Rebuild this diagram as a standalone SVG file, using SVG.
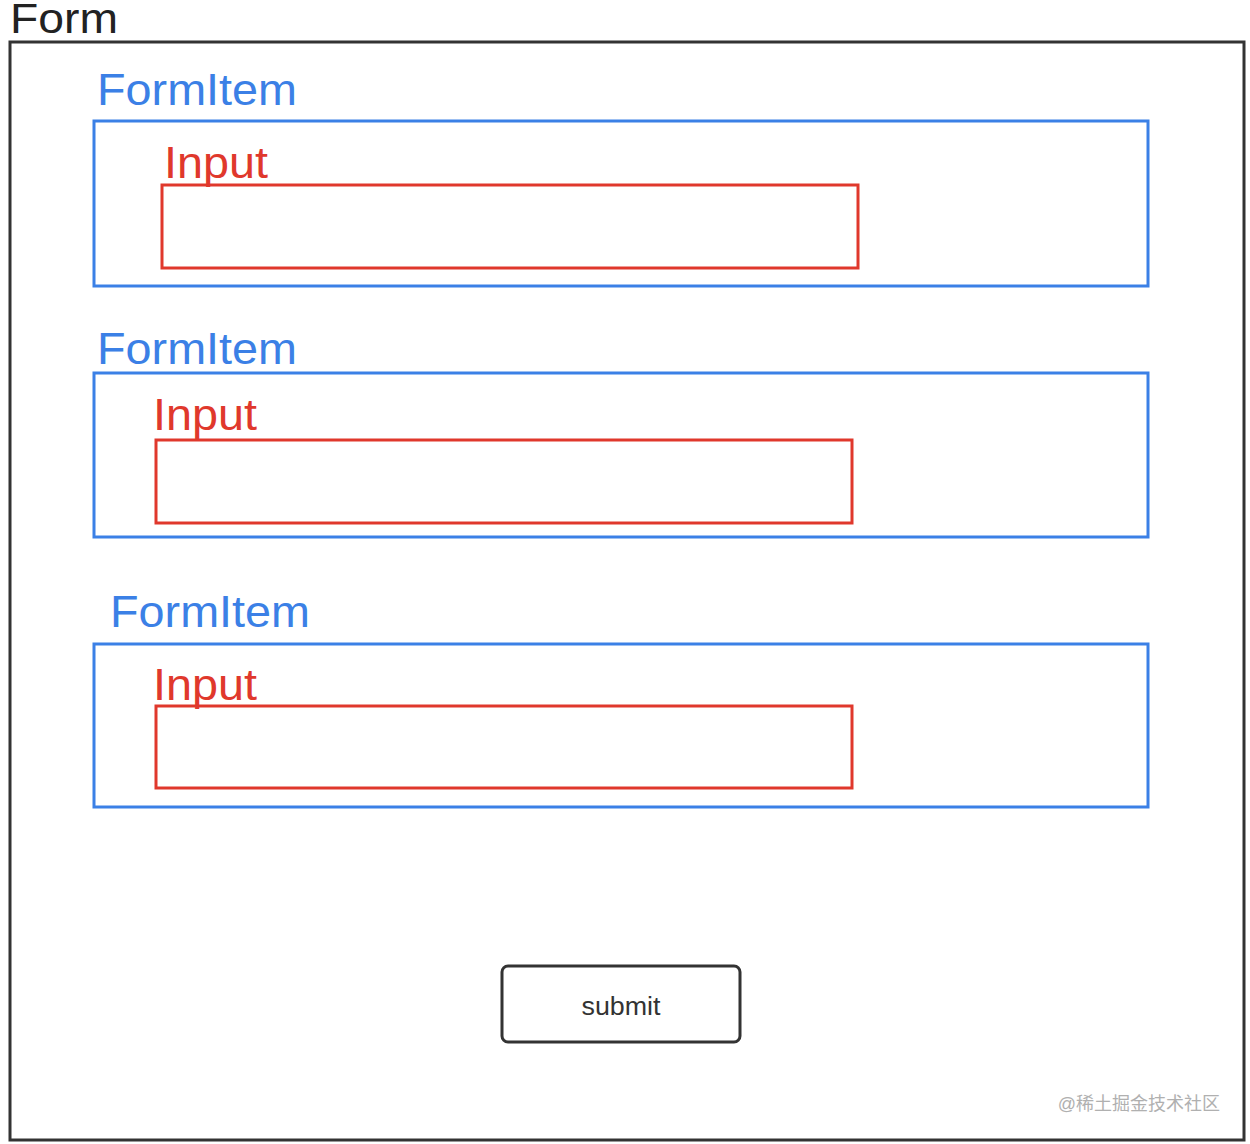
<svg xmlns="http://www.w3.org/2000/svg" width="1250" height="1144" viewBox="0 0 1250 1144">
<style>
.lbl{font-family:"Liberation Sans","Noto Sans",Arial,sans-serif}
.form{fill:none;stroke:#333;stroke-width:3}
.item{fill:none;stroke:#3b80e6;stroke-width:3}
.input{fill:none;stroke:#e0382c;stroke-width:3}
.itemt{fill:#3b80e6;font-size:44px}
.inputt{fill:#e0382c;font-size:44px}
</style>
<rect width="1250" height="1144" fill="#fff"/>
<g id="form">
<text class="lbl" x="10" y="33" font-size="42" fill="#222" textLength="108" lengthAdjust="spacingAndGlyphs">Form</text>
<rect class="form" x="10" y="42" width="1234" height="1098"/>
</g>
<g id="formitem1">
<text class="lbl itemt" x="97" y="105" textLength="200" lengthAdjust="spacingAndGlyphs">FormItem</text>
<rect class="item" x="94" y="121" width="1054" height="165"/>
</g>
<g id="input1">
<text class="lbl inputt" x="164" y="178" textLength="104" lengthAdjust="spacingAndGlyphs">Input</text>
<rect class="input" x="162" y="185" width="696" height="83"/>
</g>
<g id="formitem2">
<text class="lbl itemt" x="97" y="364" textLength="200" lengthAdjust="spacingAndGlyphs">FormItem</text>
<rect class="item" x="94" y="373" width="1054" height="164"/>
</g>
<g id="input2">
<text class="lbl inputt" x="153" y="430" textLength="104" lengthAdjust="spacingAndGlyphs">Input</text>
<rect class="input" x="156" y="440" width="696" height="83"/>
</g>
<g id="formitem3">
<text class="lbl itemt" x="110" y="627" textLength="200" lengthAdjust="spacingAndGlyphs">FormItem</text>
<rect class="item" x="94" y="644" width="1054" height="163"/>
</g>
<g id="input3">
<text class="lbl inputt" x="153" y="700" textLength="104" lengthAdjust="spacingAndGlyphs">Input</text>
<rect class="input" x="156" y="706" width="696" height="82"/>
</g>
<g id="submit">
<rect x="502" y="966" width="238" height="76" rx="6" fill="none" stroke="#333" stroke-width="3"/>
<text class="lbl" x="621" y="1015" font-size="25" fill="#333" text-anchor="middle" textLength="79" lengthAdjust="spacingAndGlyphs">submit</text>
</g>
<g id="connectors"></g>
<text x="1220" y="1110" font-family="'Liberation Sans','Noto Sans CJK SC',sans-serif" font-size="18" fill="#b0b0b0" text-anchor="end">@稀土掘金技术社区</text>
</svg>
